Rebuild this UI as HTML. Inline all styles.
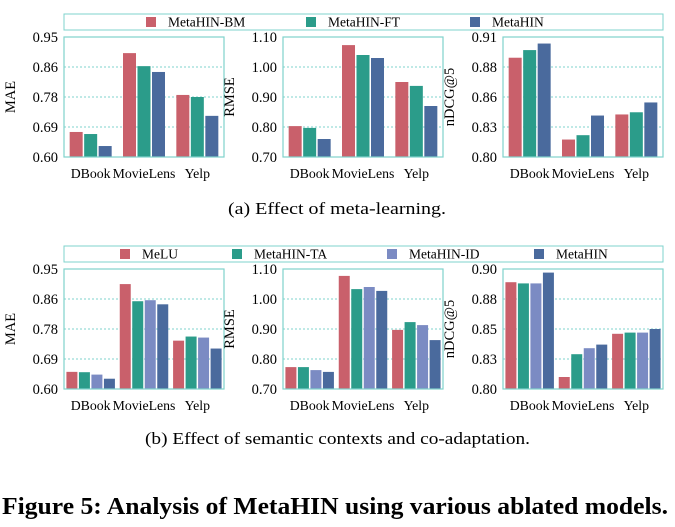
<!DOCTYPE html>
<html><head><meta charset="utf-8"><style>
html,body{margin:0;padding:0;background:#fff;}
svg{display:block;font-family:"Liberation Serif",serif;}
</style></head><body>
<svg id="fig" width="675" height="527" viewBox="0 0 675 527">
<text x="228" y="214" font-size="17" textLength="218" lengthAdjust="spacingAndGlyphs">(a)  Effect of meta-learning.</text>
<text x="145" y="444" font-size="17" textLength="385" lengthAdjust="spacingAndGlyphs">(b)  Effect of semantic contexts and co-adaptation.</text>
<text x="2" y="514" font-size="24" font-weight="bold" textLength="666" lengthAdjust="spacingAndGlyphs">Figure 5: Analysis of MetaHIN using various ablated models.</text>
</svg>
<script>
const categories = ["DBook","MovieLens","Yelp"];
const seriesA = ["MetaHIN-BM","MetaHIN-FT","MetaHIN"];
const seriesB = ["MeLU","MetaHIN-TA","MetaHIN-ID","MetaHIN"];
const maeA = [[0.673,0.903,0.781],[0.667,0.865,0.775],[0.632,0.848,0.720]];
const rmseA = [[0.803,1.073,0.950],[0.797,1.040,0.937],[0.760,1.030,0.870]];
const ndcgA = [[0.891,0.816,0.839],[0.898,0.820,0.841],[0.904,0.838,0.850]];
const maeB = [[0.650,0.906,0.741],[0.649,0.856,0.753],[0.642,0.859,0.750],[0.630,0.847,0.718]];
const rmseB = [[0.773,1.077,0.897],[0.773,1.033,0.923],[0.763,1.040,0.913],[0.757,1.027,0.863]];
const ndcgB = [[0.889,0.810,0.846],[0.888,0.829,0.847],[0.888,0.834,0.847],[0.897,0.837,0.850]];
const maeTicks = ["0.60","0.69","0.78","0.86","0.95"];
const rmseTicks = ["0.70","0.80","0.90","1.00","1.10"];
const ndcgTicksA = ["0.80","0.83","0.86","0.88","0.91"];
const ndcgTicksB = ["0.80","0.83","0.85","0.88","0.90"];

const NS="http://www.w3.org/2000/svg";
const svg=document.getElementById('fig');
const colA=["#c9606b","#2b9c8a","#4a6a9d"];
const colB=["#c9606b","#2b9c8a","#7b8bc3","#4a6a9d"];
function mk(t,a,p){const e=document.createElementNS(NS,t);for(const k in a)e.setAttribute(k,a[k]);(p||svg).appendChild(e);return e;}

function legend(y,names,cols,xs){
  const g=mk('g',{});
  
  
  mk('rect',{x:64,y:y,width:599,height:16,fill:'#fff',stroke:'#7fd3cc','stroke-width':1},g);
  names.forEach((n,i)=>{
    const e=mk('g',{},g);
    
    
    mk('rect',{x:xs[i],y:y+3,width:10,height:10,fill:cols[i]},e);
    const t=mk('text',{x:xs[i]+22,y:y+12.5,'font-size':13.5},e);t.textContent=n;
  });
}

function panel(px,top,vals,lo,hi,ticks,ylab,cols,name){
  const W=160,H=120,g=mk('g',{});
  
  
  const y=v=>top+H-(v-lo)/(hi-lo)*H;
  ticks.forEach((t,i)=>{
    const yy=top+H-i*H/(ticks.length-1);
    if(i>0&&i<ticks.length-1){const l=mk('line',{x1:px,x2:px+W,y1:yy,y2:yy,stroke:'#7fd3cc','stroke-dasharray':'2,2','stroke-width':1},g);
      }
    const tx=mk('text',{x:px-6,y:yy+5,'text-anchor':'end','font-size':14.5},g);tx.textContent=t;
    
  });
  const n=vals.length,gw=W/3,bw=n===3?13:11,gap=1.5;
  const inner=n*bw+(n-1)*gap;
  categories.forEach((c,ci)=>{
    const gx=px+ci*gw+(gw-inner)/2;
    vals.forEach((s,si)=>{
      const yy=y(s[ci]);
      const r=mk('rect',{x:gx+si*(bw+gap),y:yy,width:bw,height:top+H-yy,fill:cols[si]},g);
      
      
    });
    const t=mk('text',{x:px+ci*gw+gw/2,y:top+H+21,'text-anchor':'middle','font-size':13.8},g);t.textContent=c;
    
  });
  mk('rect',{x:px,y:top,width:W,height:H,fill:'none',stroke:'#7fd3cc','stroke-width':1.2},g);
  const cx=px-49,cy=top+H/2;
  const yl=mk('text',{x:cx,y:cy,'text-anchor':'middle','font-size':14.5,transform:`rotate(-90 ${cx} ${cy})`},g);yl.textContent=ylab;
  
}
legend(14,seriesA,colA,[146,306,470]);
legend(246,seriesB,colB,[120,232,387,534]);
panel(64,37,maeA,0.60,0.95,maeTicks,"MAE",colA,"mae-chart-a");
panel(283,37,rmseA,0.70,1.10,rmseTicks,"RMSE",colA,"rmse-chart-a");
panel(503,37,ndcgA,0.80,0.91,ndcgTicksA,"nDCG@5",colA,"ndcg-chart-a");
panel(64,269,maeB,0.60,0.95,maeTicks,"MAE",colB,"mae-chart-b");
panel(283,269,rmseB,0.70,1.10,rmseTicks,"RMSE",colB,"rmse-chart-b");
panel(503,269,ndcgB,0.80,0.90,ndcgTicksB,"nDCG@5",colB,"ndcg-chart-b");
</script>
</body></html>
